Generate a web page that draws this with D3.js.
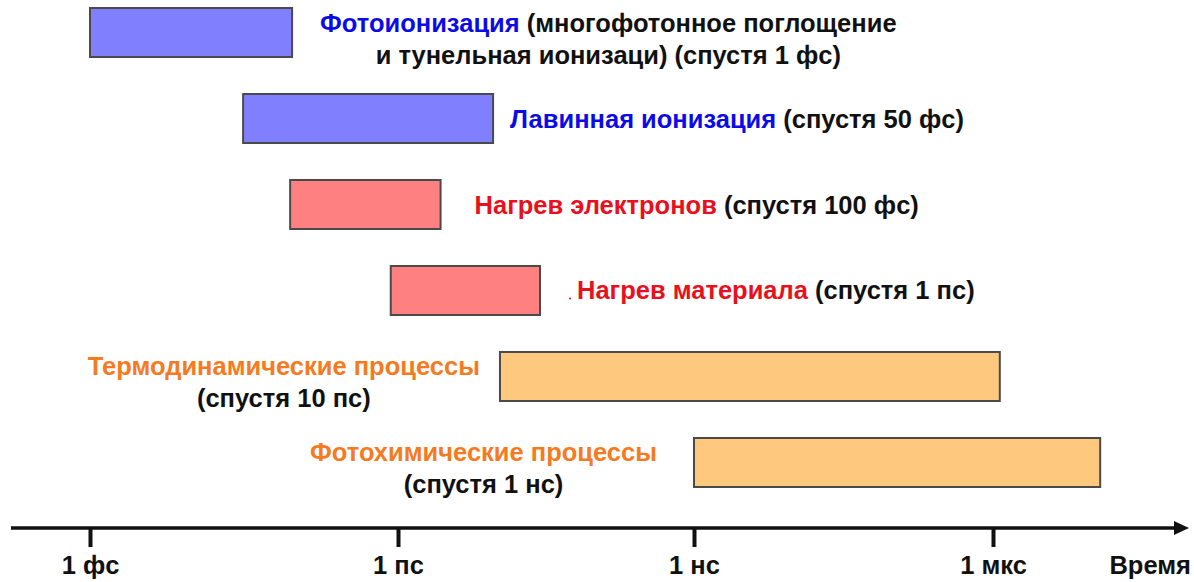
<!DOCTYPE html>
<html>
<head>
<meta charset="utf-8">
<script src="https://cdn.jsdelivr.net/npm/d3@7"></script>
<style>
  body { margin: 0; background: #fff; }
  svg text { font-family: "Liberation Sans", Arial, sans-serif; font-weight: bold; font-size: 25.5px; }
</style>
</head>
<body>
<div id="chart"></div>
<script>
// processes: start / end time in seconds (log axis)
var processNames = [
  'Фотоионизация',
  'Лавинная ионизация',
  'Нагрев электронов',
  'Нагрев материала',
  'Термодинамические процессы',
  'Фотохимические процессы'
];
var startTimes = [1e-15, 3.1e-14, 8.9e-14, 8.5e-13, 1.08e-11, 1e-9];
var endTimes   = [9.3e-14, 9.2e-12, 2.7e-12, 2.75e-11, 1.17e-6, 1.19e-5];
var suffixes = [
  ' (многофотонное поглощение',
  ' (спустя 50 фс)',
  ' (спустя 100 фс)',
  ' (спустя 1 пс)',
  '',
  ''
];
var secondLines = [
  'и тунельная ионизаци) (спустя 1 фс)',
  null,
  null,
  null,
  '(спустя 10 пс)',
  '(спустя 1 нс)'
];
var groups = ['blue', 'blue', 'red', 'red', 'orange', 'orange'];
var labelSide = ['right', 'right', 'right', 'right', 'left', 'left'];

var tickTimes  = [1e-15, 1e-12, 1e-9, 1e-6];
var tickLabels = ['1 фс', '1 пс', '1 нс', '1 мкс'];
var axisTitle = 'Время';

var width = 1194, height = 582;
var fills = { blue: '#8080ff', red: '#ff8080', orange: '#fec97f' };
var textColors = { blue: '#0b0be8', red: '#e8101c', orange: '#f47b22' };
// distance between a bar and its label
var labelGap = [28, 17, 34, 37, 20, 37];

var svg = d3.select('#chart').append('svg')
  .attr('width', width)
  .attr('height', height);

// the decades in the original are not quite evenly spaced
var x = d3.scaleLog()
  .domain(tickTimes)
  .range([90, 398, 694, 993]);

var y = d3.scaleBand()
  .domain(d3.range(processNames.length))
  .range([8, 487])
  .paddingInner(0.43);

// bars
svg.selectAll('rect.bar')
  .data(processNames)
  .enter()
  .append('rect')
  .attr('class', 'bar')
  .attr('x', function(d, i) { return x(startTimes[i]); })
  .attr('y', function(d, i) { return y(i); })
  .attr('width', function(d, i) { return x(endTimes[i]) - x(startTimes[i]); })
  .attr('height', y.bandwidth())
  .attr('fill', function(d, i) { return fills[groups[i]]; })
  .attr('stroke', '#4a4a4a')
  .attr('stroke-width', 2);

// labels
processNames.forEach(function(name, i) {
  var cy = y(i) + y.bandwidth() / 2;
  var twoLines = secondLines[i] !== null;
  var right = labelSide[i] === 'right';
  var lx = right ? x(endTimes[i]) + labelGap[i] : x(startTimes[i]) - labelGap[i];

  var t = svg.append('text')
    .attr('x', lx)
    .attr('y', twoLines ? cy - 1 : cy + 9)
    .attr('text-anchor', right ? 'start' : 'end');
  if (i === 3) {
    // little stray dot in the original
    svg.append('circle')
      .attr('cx', lx - 7).attr('cy', cy + 8).attr('r', 1)
      .attr('fill', textColors.red);
  }
  t.append('tspan').attr('fill', textColors[groups[i]]).text(name);
  t.append('tspan').attr('fill', '#111').text(suffixes[i]);

  if (twoLines) {
    var w = t.node().getComputedTextLength();
    var mid = right ? lx + w / 2 : lx - w / 2;
    svg.append('text')
      .attr('x', mid)
      .attr('y', cy + 31)
      .attr('text-anchor', 'middle')
      .attr('fill', '#111')
      .text(secondLines[i]);
  }
});

// time axis
var axisY = 528;
svg.append('line')
  .attr('x1', 11).attr('x2', 1178)
  .attr('y1', axisY).attr('y2', axisY)
  .attr('stroke', '#111')
  .attr('stroke-width', 3.5);
svg.append('path')
  .attr('d', 'M1174,' + (axisY - 7) + 'L1189,' + axisY + 'L1174,' + (axisY + 7) + 'Z')
  .attr('fill', '#111');

var axis = d3.axisBottom(x)
  .tickValues(tickTimes)
  .tickFormat(function(d, i) { return tickLabels[i]; })
  .tickSize(19)
  .tickPadding(8);

var gAxis = svg.append('g')
  .attr('transform', 'translate(0,' + axisY + ')')
  .call(axis);
gAxis.select('.domain').remove();
gAxis.selectAll('.tick line').attr('stroke', '#111').attr('stroke-width', 4);
gAxis.selectAll('.tick text')
  .attr('fill', '#111')
  .attr('dy', null)
  .attr('y', 46)
  .style('font-size', '25.5px')
  .style('font-family', '"Liberation Sans", Arial, sans-serif');

svg.append('text')
  .attr('x', 1191)
  .attr('y', axisY + 46)
  .attr('text-anchor', 'end')
  .attr('fill', '#111')
  .text(axisTitle);
</script>
</body>
</html>
